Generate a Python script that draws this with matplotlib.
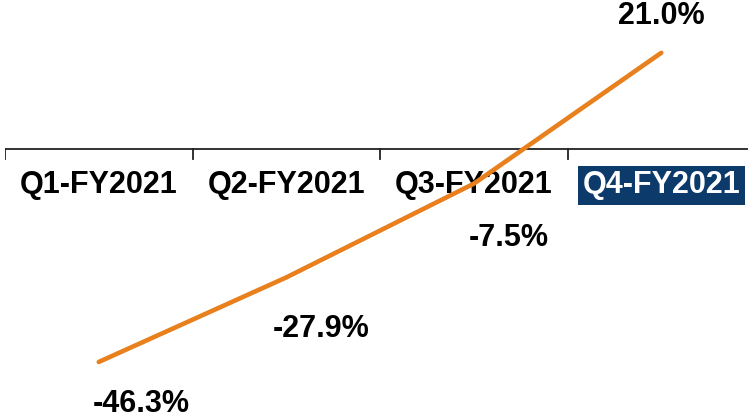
import matplotlib.pyplot as plt

plt.rcParams['font.family'] = ['Liberation Sans', 'DejaVu Sans']

quarters = ['Q1-FY2021', 'Q2-FY2021', 'Q3-FY2021', 'Q4-FY2021']
growth = [-46.3, -27.9, -7.5, 21.0]
value_labels = ['-46.3%', '-27.9%', '-7.5%', '21.0%']

line_color = '#E8801E'
navy = '#0B3A6B'

fig = plt.figure(figsize=(7.48, 4.18), dpi=100)
ax = fig.add_axes([5 / 748, 0, 750 / 748, 1])
ax.set_xlim(-0.5, 3.5)
ax.set_ylim(-58.5, 32.5)
ax.axis('off')

# category axis at zero
ax.axhline(0, color='#222222', lw=1.3, zorder=1)
for b in [-0.5, 0.5, 1.5, 2.5, 3.5]:
    ax.plot([b, b], [0, -2.2], color='#222222', lw=1.3, zorder=1)

x = list(range(len(quarters)))
ax.plot(x, growth, color=line_color, lw=3.3, solid_capstyle='round', zorder=3)

for i, q in enumerate(quarters):
    if i == 3:
        ax.text(i, -7.8, q, ha='center', va='center', fontsize=22, fontweight='bold',
                color='white', zorder=2,
                bbox=dict(boxstyle='square,pad=0.15', facecolor=navy, edgecolor='none'))
    else:
        ax.text(i, -7.8, q, ha='center', va='center', fontsize=22, fontweight='bold',
                color='black', zorder=2)

offsets = [(42, -42), (35, -52), (35, -54), (0, 37)]
for i, (v, lab) in enumerate(zip(growth, value_labels)):
    ax.annotate(lab, (i, v), xytext=offsets[i], textcoords='offset pixels',
                ha='center', va='center', fontsize=22, fontweight='bold', color='black')

fig.savefig('out.png', dpi=100)
